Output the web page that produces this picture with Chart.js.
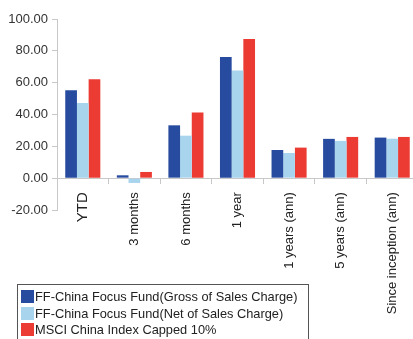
<!DOCTYPE html>
<html>
<head>
<meta charset="utf-8">
<script src="https://cdn.jsdelivr.net/npm/chart.js@4/dist/chart.umd.min.js"></script>
<style>
    html, body { margin: 0; padding: 0; background: #fff; overflow: hidden; }
    #wrap { position: relative; width: 418px; height: 339px; }
    #legend {
        position: absolute; left: 17px; top: 284px; width: 292px; height: 60px;
        border: 1px solid #555; box-sizing: border-box; padding: 4px 0 0 3px;
        font-family: "Liberation Sans", Arial, sans-serif; font-size: 12.8px; color: #222;
    }
    #legend div { height: 16.5px; line-height: 16.5px; white-space: nowrap; }
    #legend span { display: inline-block; width: 13px; height: 13px; vertical-align: -2px; margin-right: 1px; }
</style>
</head>
<body>
<div id="wrap">
    <canvas id="perfChart"></canvas>
    <div id="legend"></div>
</div>
<script>
// Performance periods and returns (%)
const periods = ['YTD', '3 months', '6 months', '1 year', '1 years (ann)', '5 years (ann)', 'Since inception (ann)'];
const grossReturns = [55.2, 1.8, 33.2, 76.2, 17.7, 24.7, 25.5];
const netReturns = [47.3, -3.0, 26.7, 67.6, 15.8, 23.4, 24.8];
const indexReturns = [62.1, 3.9, 41.2, 87.5, 19.2, 25.9, 25.9];
const yTicks = [-20, 0, 20, 40, 60, 80, 100];

const seriesNames = [
    'FF-China Focus Fund(Gross of Sales Charge)',
    'FF-China Focus Fund(Net of Sales Charge)',
    'MSCI China Index Capped 10%'
];
const seriesColors = ['#264b9f', '#a9d4ee', '#ec3b33'];

const axisFont = { family: '"Liberation Sans", Arial, sans-serif', size: 13 };

const chart = new Chart(document.getElementById('perfChart'), {
    type: 'bar',
    data: {
        labels: periods,
        datasets: [grossReturns, netReturns, indexReturns].map((vals, i) => ({
            label: seriesNames[i],
            data: vals,
            backgroundColor: seriesColors[i],
            borderWidth: 0,
            categoryPercentage: 0.68,
            barPercentage: 1
        }))
    },
    options: {
        responsive: true,
        maintainAspectRatio: false,
        animation: false,
        layout: { padding: { top: 19, bottom: 129, left: 0, right: 0 } },
        plugins: {
            legend: { display: false },
            tooltip: { enabled: false }
        },
        scales: {
            x: {
                position: { y: 0 },
                grid: { display: true, drawOnChartArea: false, tickLength: 5, color: '#c8c8c8' },
                border: { color: '#c8c8c8' },
                ticks: {
                    minRotation: 90,
                    maxRotation: 90,
                    padding: 9,
                    color: '#222',
                    font: (c) => c.index === 0 ? { family: axisFont.family, size: 15 } : axisFont
                }
            },
            y: {
                min: yTicks[0],
                max: yTicks[yTicks.length - 1],
                afterFit: (s) => { s.width = 57; },
                afterBuildTicks: (s) => { s.ticks = yTicks.map(v => ({ value: v })); },
                grid: { drawOnChartArea: false, tickLength: 5, color: '#c8c8c8' },
                border: { color: '#c8c8c8' },
                ticks: {
                    padding: 4,
                    color: '#333',
                    font: axisFont,
                    callback: (v) => v.toFixed(2)
                }
            }
        }
    }
});

// HTML legend built from the datasets
const legendEl = document.getElementById('legend');
chart.data.datasets.forEach(ds => {
    const row = document.createElement('div');
    const sw = document.createElement('span');
    sw.style.background = ds.backgroundColor;
    row.appendChild(sw);
    row.appendChild(document.createTextNode(ds.label));
    legendEl.appendChild(row);
});
</script>
</body>
</html>
